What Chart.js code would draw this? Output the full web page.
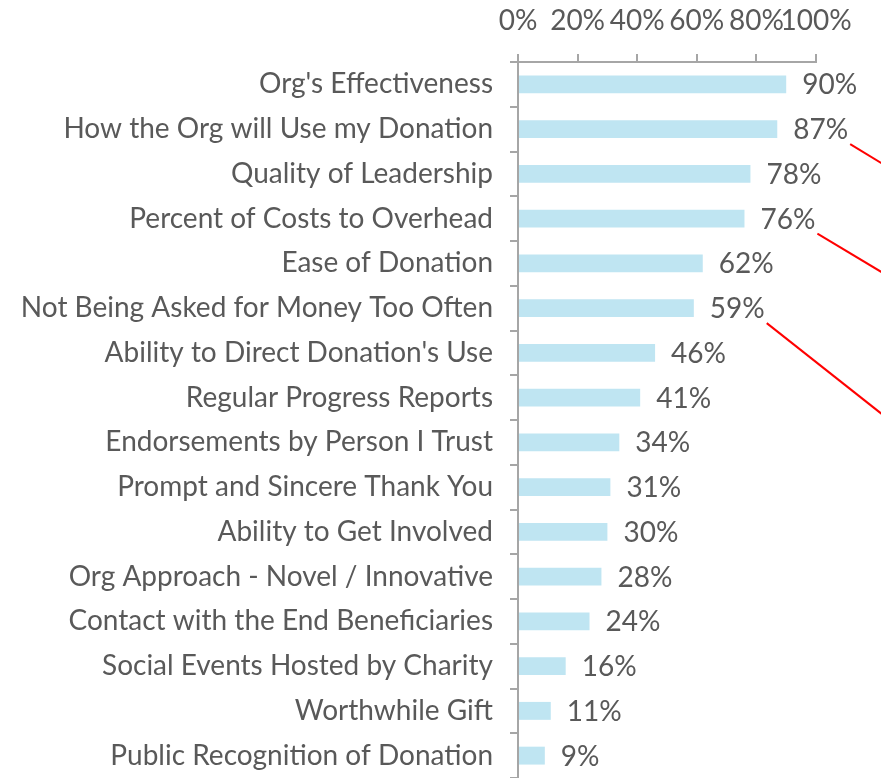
<!DOCTYPE html>
<html>
<head>
<meta charset="utf-8">
<script src="https://cdn.jsdelivr.net/npm/chart.js@4/dist/chart.umd.min.js"></script>
<style>
  html, body { margin: 0; padding: 0; background: #fff; }
  #wrap { width: 881px; height: 778px; }
</style>
</head>
<body>
<div id="wrap"><canvas id="factorChart"></canvas></div>
<script>
const categories = [
    "Org's Effectiveness",
    'How the Org will Use my Donation',
    'Quality of Leadership',
    'Percent of Costs to Overhead',
    'Ease of Donation',
    'Not Being Asked for Money Too Often',
    "Ability to Direct Donation's Use",
    'Regular Progress Reports',
    'Endorsements by Person I Trust',
    'Prompt and Sincere Thank You',
    'Ability to Get Involved',
    'Org Approach - Novel / Innovative',
    'Contact with the End Beneficiaries',
    'Social Events Hosted by Charity',
    'Worthwhile Gift',
    'Public Recognition of Donation'
];
const importance = [90, 87, 78, 76, 62, 59, 46, 41, 34, 31, 30, 28, 24, 16, 11, 9];
const xTicks = [0, 20, 40, 60, 80, 100];
// rows that get a red callout line, with its slope
const calloutRows = [1, 3, 5];
const calloutSlopes = [0.61, 0.6, 0.79];

const textColor = '#595959';
const axisColor = '#a6a6a6';
const fontFamily = 'Lato, "Open Sans", sans-serif';
const fontSize = 28;

// value labels at the end of each bar + red callout lines
const valueLabels = {
    id: 'valueLabels',
    afterDatasetsDraw(chart) {
        const ctx = chart.ctx;
        const meta = chart.getDatasetMeta(0);
        ctx.save();
        ctx.font = fontSize + 'px ' + fontFamily;
        ctx.fillStyle = textColor;
        ctx.textBaseline = 'middle';
        ctx.textAlign = 'left';
        const ends = [];
        meta.data.forEach((bar, i) => {
            const txt = importance[i] + '%';
            ctx.fillText(txt, bar.x + 16, bar.y + 1);
            ends.push({ x: bar.x + 16 + ctx.measureText(txt).width, y: bar.y });
        });
        ctx.strokeStyle = '#ff0000';
        ctx.lineWidth = 2;
        calloutRows.forEach((row, k) => {
            const x0 = ends[row].x + 2;
            const y0 = ends[row].y + 15;
            const len = chart.width - x0 + 20;
            ctx.beginPath();
            ctx.moveTo(x0, y0);
            ctx.lineTo(x0 + len, y0 + len * calloutSlopes[k]);
            ctx.stroke();
        });
        ctx.restore();
    }
};

new Chart(document.getElementById('factorChart'), {
    type: 'bar',
    data: {
        labels: categories,
        datasets: [{
            data: importance,
            backgroundColor: '#bfe5f2',
            borderWidth: 0,
            categoryPercentage: 1,
            barPercentage: 0.4
        }]
    },
    options: {
        indexAxis: 'y',
        responsive: true,
        maintainAspectRatio: false,
        animation: false,
        layout: { padding: { top: 0, right: 65, left: 0, bottom: 0 } },
        plugins: {
            legend: { display: false },
            tooltip: { enabled: false }
        },
        scales: {
            x: {
                position: 'top',
                min: 0,
                max: 100,
                afterBuildTicks(axis) {
                    axis.ticks = xTicks.map(v => ({ value: v }));
                },
                afterFit(axis) {
                    axis.height = 62;
                },
                ticks: {
                    color: textColor,
                    font: { family: fontFamily, size: fontSize },
                    padding: 16,
                    maxRotation: 0,
                    autoSkip: false,
                    callback: v => v + '%'
                },
                grid: {
                    drawOnChartArea: false,
                    drawTicks: true,
                    tickLength: 8,
                    color: axisColor,
                    lineWidth: 2
                },
                border: { color: axisColor, width: 2 }
            },
            y: {
                afterFit(axis) {
                    axis.width = 518;
                    axis.paddingTop = 0;
                    axis.paddingBottom = 0;
                },
                ticks: {
                    color: textColor,
                    font: { family: fontFamily, size: fontSize },
                    padding: 17,
                    autoSkip: false
                },
                grid: {
                    offset: true,
                    drawOnChartArea: false,
                    drawTicks: true,
                    tickLength: 8,
                    color: axisColor,
                    lineWidth: 2
                },
                border: { color: axisColor, width: 2 }
            }
        }
    },
    plugins: [valueLabels]
});
</script>
</body>
</html>
